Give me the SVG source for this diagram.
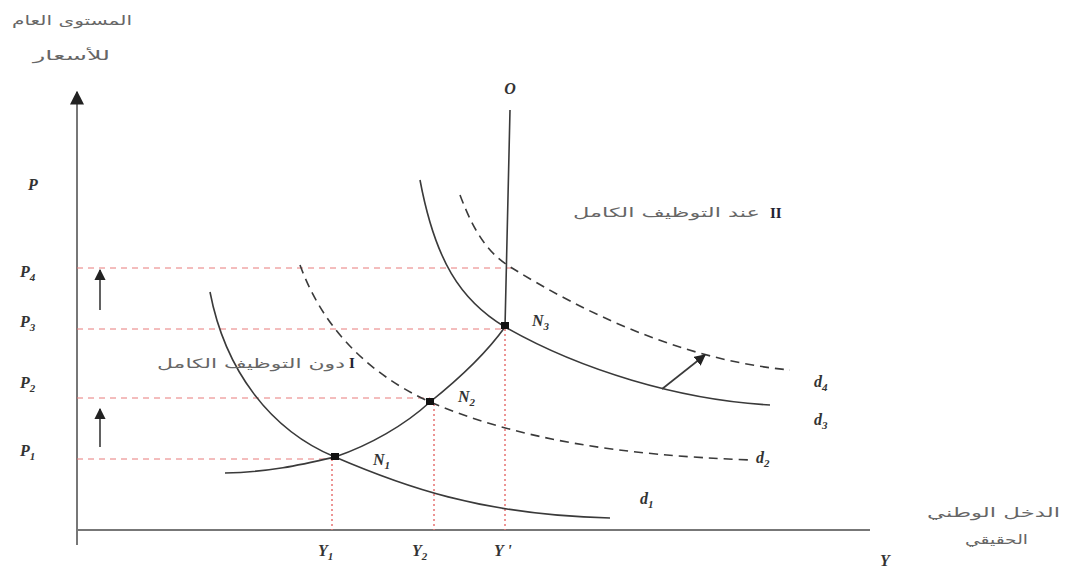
<svg xmlns="http://www.w3.org/2000/svg" width="1068" height="569" viewBox="0 0 1068 569">
<defs>
<style>
.axis{stroke:#777;stroke-width:2;fill:none}
.curve{stroke:#3a3a3a;stroke-width:1.6;fill:none}
.dash{stroke:#3a3a3a;stroke-width:1.6;fill:none;stroke-dasharray:9 6}
.red{stroke:#e87a7a;stroke-width:1;fill:none;stroke-dasharray:6 5}
.redv{stroke:#e87a7a;stroke-width:1.6;fill:none;stroke-dasharray:2 3}
.lab{font-family:"Liberation Serif",serif;font-style:italic;font-weight:bold;font-size:16px;fill:#333}
.sub{font-size:11px}
.ar{font-family:"DejaVu Sans",sans-serif;font-size:13px;fill:#666}
.rom{font-family:"Liberation Serif",serif;font-weight:bold;font-size:15px;fill:#223}
</style>
<marker id="ah" viewBox="0 0 10 10" refX="9" refY="5" markerWidth="7" markerHeight="7" orient="auto-start-reverse">
<path d="M0,0 L10,5 L0,10 z" fill="#222"/>
</marker>
</defs>
<rect width="1068" height="569" fill="#fff"/>
<g id="axes">
<line class="axis" x1="77" y1="545" x2="77" y2="92" marker-end="url(#ah)"/>
<line class="axis" x1="77" y1="530" x2="870" y2="530"/>
</g>
<g id="guides">
<line class="red" x1="77" y1="268" x2="512" y2="268"/>
<line class="red" x1="77" y1="329" x2="505" y2="329"/>
<line class="red" x1="77" y1="398" x2="430" y2="398"/>
<line class="red" x1="77" y1="459" x2="335" y2="459"/>
<line class="redv" x1="332" y1="459" x2="332" y2="530"/>
<line class="redv" x1="434" y1="404" x2="434" y2="530"/>
<line class="redv" x1="505" y1="329" x2="505" y2="530"/>
</g>
<g id="connectors">
<path id="d1" class="curve" d="M210,292 C225,370 270,430 335,457 C400,485 480,515 610,518"/>
<path id="d2" class="dash" d="M300,265 C320,320 360,370 430,402 C520,440 620,455 750,460"/>
<path id="d3" class="curve" d="M420,180 C435,260 460,300 505,327 C580,370 680,400 770,405"/>
<path id="d4" class="dash" d="M460,195 C475,235 490,255 512,268 C580,310 680,360 790,370"/>
<path id="supply" class="curve" d="M225,473 C270,472 300,465 335,457 C370,445 405,425 430,402 C460,378 485,355 505,327 L510,110"/>
<line class="curve" x1="662" y1="389" x2="705" y2="355" marker-end="url(#ah)"/>
<line class="curve" stroke-width="1.8" x1="100" y1="310" x2="100" y2="270" marker-end="url(#ah)"/>
<line class="curve" stroke-width="2.2" x1="100" y1="447" x2="100" y2="409" marker-end="url(#ah)"/>
</g>
<g id="N1"><rect x="331" y="453" width="8" height="7" fill="#111"/><text class="lab" x="373" y="465">N<tspan class="sub" dy="4">1</tspan></text></g>
<g id="N2"><rect x="426" y="398" width="8" height="7" fill="#111"/><text class="lab" x="458" y="402">N<tspan class="sub" dy="4">2</tspan></text></g>
<g id="N3"><rect x="501" y="322" width="8" height="7" fill="#111"/><text class="lab" x="532" y="326">N<tspan class="sub" dy="4">3</tspan></text></g>
<g id="labels">
<text class="lab" x="510" y="94" text-anchor="middle" fill="#334">O</text>
<text class="lab" x="28" y="190">P</text>
<text class="lab" x="20" y="277">P<tspan class="sub" dy="4">4</tspan></text>
<text class="lab" x="20" y="327">P<tspan class="sub" dy="4">3</tspan></text>
<text class="lab" x="20" y="388">P<tspan class="sub" dy="4">2</tspan></text>
<text class="lab" x="20" y="456">P<tspan class="sub" dy="4">1</tspan></text>
<text class="lab" x="318" y="556">Y<tspan class="sub" dy="4">1</tspan></text>
<text class="lab" x="412" y="556">Y<tspan class="sub" dy="4">2</tspan></text>
<text class="lab" x="494" y="556">Y '</text>
<text class="lab" x="880" y="566">Y</text>
<text class="lab" x="640" y="504">d<tspan class="sub" dy="4">1</tspan></text>
<text class="lab" x="756" y="463">d<tspan class="sub" dy="4">2</tspan></text>
<text class="lab" x="814" y="425">d<tspan class="sub" dy="4">3</tspan></text>
<text class="lab" x="814" y="387">d<tspan class="sub" dy="4">4</tspan></text>
<text class="ar" x="12" y="25" textLength="120" lengthAdjust="spacingAndGlyphs">المستوى العام</text>
<text class="ar" x="33" y="60" textLength="77" lengthAdjust="spacingAndGlyphs">للأسعار</text>
<text class="ar" x="927" y="517" textLength="133" lengthAdjust="spacingAndGlyphs">الدخل الوطني</text>
<text class="ar" x="965" y="544" textLength="63" lengthAdjust="spacingAndGlyphs">الحقيقي</text>
<text class="ar" x="573" y="217" textLength="187" lengthAdjust="spacingAndGlyphs">عند التوظيف الكامل</text>
<text class="rom" x="770" y="218">II</text>
<text class="ar" x="157" y="368" textLength="188" lengthAdjust="spacingAndGlyphs">دون التوظيف الكامل</text>
<text class="rom" x="349" y="368" fill="#2a6a2a">I</text>
</g>
</svg>
